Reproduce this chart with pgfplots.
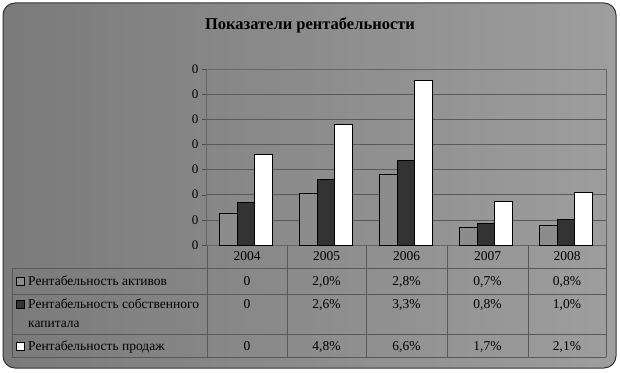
\documentclass[border=0pt]{standalone}
\usepackage{fontspec}
\setmainfont{Liberation Serif}
\usepackage{pgfplots}
\pgfplotsset{compat=1.18}
\usepackage{pgfplotstable}

\pgfplotstableread{
x a b c
0 1.25 1.70 3.60
1 2.05 2.60 4.78
2 2.82 3.36 6.56
3 0.69 0.86 1.72
4 0.77 1.02 2.10
}\data

\definecolor{barA}{gray}{0.55}
\definecolor{barB}{gray}{0.2}

\begin{document}
\begin{tikzpicture}[x=1pt,y=1pt]
\useasboundingbox (0,0) rectangle (620,372);
\fill[white] (0,0) rectangle (620,372);
\shade[rounded corners=12pt, shading angle=60, left color=black!52, middle color=black!18, right color=black!38] (3,4) rectangle (616,369);
\draw[rounded corners=12pt, line width=1pt, black!80] (3,4) rectangle (616,369);

\node[font=\bfseries\fontsize{16.5}{18}\selectfont] at (310,347) {Показатели рентабельности};

\begin{axis}[at={(206pt,127pt)}, anchor=south west, width=400pt, height=176pt, scale only axis,
  xmin=-0.5, xmax=4.5, ymin=0, ymax=7,
  ybar=0pt, bar width=17.5pt,
  ytick={0,...,7}, yticklabel={0}, xtick=\empty, ytick pos=left,
  ymajorgrids, grid style={black!65, line width=0.5pt},
  axis line style={black!60},
  tick style={black!70}, tick align=outside, major tick length=4pt,
  yticklabel style={font=\fontsize{13}{15}\selectfont},
  clip=false]
\addplot[fill=barA, draw=black, line width=0.7pt] table[x=x,y=a]{\data};
\addplot[fill=barB, draw=black, line width=0.7pt] table[x=x,y=b]{\data};
\addplot[fill=white, draw=black, line width=0.7pt] table[x=x,y=c]{\data};
\end{axis}

% data table
\begin{scope}[black!65, line width=0.5pt]
\foreach \xx in {207,287,366,447,528,606} \draw (\xx,127) -- (\xx,15);
\draw (12,104) -- (12,15);
\foreach \yy in {104,78,38,15} \draw (12,\yy) -- (606,\yy);
\end{scope}

\begin{scope}[every node/.style={font=\fontsize{13.5}{15}\selectfont, inner sep=0pt}]
\foreach \xx/\yr in {247/2004,326.5/2005,406.5/2006,487.5/2007,567/2008}
  \node at (\xx,116) {\yr};
% row 1
\filldraw[fill=barA, draw=black, line width=0.5pt] (16.5,87) rectangle (24.5,95);
\node[anchor=base west] at (28,87) {Рентабельность активов};
\foreach \xx/\v in {247/0,326.5/{2,0\%},406.5/{2,8\%},487.5/{0,7\%},567/{0,8\%}}
  \node[anchor=base] at (\xx,87) {\v};
% row 2
\filldraw[fill=barB, draw=black, line width=0.5pt] (16.5,64) rectangle (24.5,72);
\node[anchor=base west] at (28,64) {Рентабельность собственного};
\node[anchor=base west] at (28,45) {капитала};
\foreach \xx/\v in {247/0,326.5/{2,6\%},406.5/{3,3\%},487.5/{0,8\%},567/{1,0\%}}
  \node[anchor=base] at (\xx,64) {\v};
% row 3
\filldraw[fill=white, draw=black, line width=0.5pt] (16.5,22) rectangle (24.5,30);
\node[anchor=base west] at (28,22) {Рентабельность продаж};
\foreach \xx/\v in {247/0,326.5/{4,8\%},406.5/{6,6\%},487.5/{1,7\%},567/{2,1\%}}
  \node[anchor=base] at (\xx,22) {\v};
\end{scope}
\end{tikzpicture}
\end{document}
